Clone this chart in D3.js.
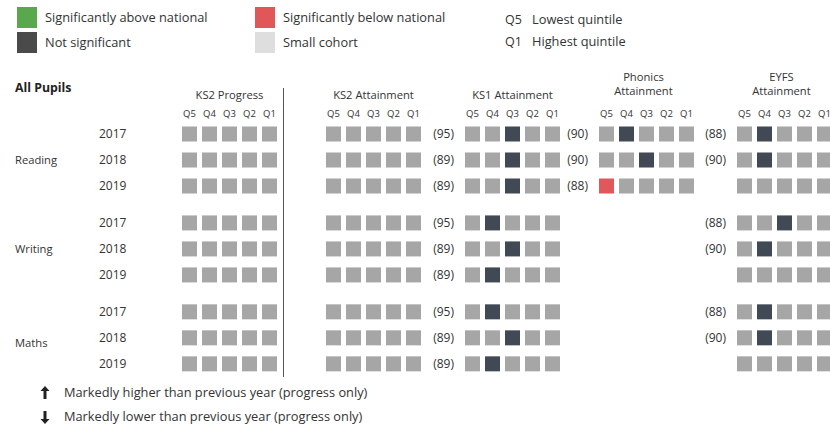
<!DOCTYPE html>
<html>
<head>
<meta charset="utf-8">
<script src="https://cdn.jsdelivr.net/npm/d3@7"></script>
<style>
  body { margin: 0; background: #fff; }
  svg text { font-family: "Open Sans", "Noto Sans", sans-serif; fill: #333; }
</style>
</head>
<body>
<svg width="830" height="425"></svg>
<script>
const subjects = ["Reading", "Writing", "Maths"];
const years = ["2017", "2018", "2019"];
const quintiles = ["Q5", "Q4", "Q3", "Q2", "Q1"];
const sectionNames = [["KS2 Progress"], ["KS2 Attainment"], ["KS1 Attainment"], ["Phonics", "Attainment"], ["EYFS", "Attainment"]];

// one string per row (Reading 2017..2019, Writing 2017..2019, Maths 2017..2019)
// g = grey, d = not significant, r = significantly below national
const ks2Progress = ["ggggg", "ggggg", "ggggg", "ggggg", "ggggg", "ggggg", "ggggg", "ggggg", "ggggg"];
const ks2Attainment = ["ggggg", "ggggg", "ggggg", "ggggg", "ggggg", "ggggg", "ggggg", "ggggg", "ggggg"];
const ks1Attainment = ["ggdgg", "ggdgg", "ggdgg", "gdggg", "ggdgg", "gdggg", "gdggg", "ggdgg", "gdggg"];
const phonicsAttainment = ["gdggg", "ggdgg", "rgggg", null, null, null, null, null, null];
const eyfsAttainment = ["gdggg", "gdggg", "ggggg", "ggdgg", "gdggg", "ggggg", "gdggg", "gdggg", "ggggg"];

// cohort figures shown in brackets before a section
const ks1Counts = [95, 89, 89, 95, 89, 89, 95, 89, 89];
const phonicsCounts = [90, 90, 88, null, null, null, null, null, null];
const eyfsCounts = [88, 90, null, 88, 90, null, 88, 90, null];

const sectionCells = [ks2Progress, ks2Attainment, ks1Attainment, phonicsAttainment, eyfsAttainment];
const sectionCounts = [null, null, ks1Counts, phonicsCounts, eyfsCounts];
const sectionX = [182, 326, 465, 599, 737];

const legendItems = [
  { label: "Significantly above national", color: "#5aa84d", x: 17, y: 7 },
  { label: "Not significant", color: "#4a4a4a", x: 17, y: 32 },
  { label: "Significantly below national", color: "#e05659", x: 255, y: 7 },
  { label: "Small cohort", color: "#dedede", x: 255, y: 32 }
];
const quintileKey = [["Q5", "Lowest quintile"], ["Q1", "Highest quintile"]];
const arrowKey = ["Markedly higher than previous year (progress only)", "Markedly lower than previous year (progress only)"];

const stateColor = { g: "#a6a6a6", d: "#414955", r: "#e0585b" };
const cell = 15;

const svg = d3.select("svg");

// legend
const leg = svg.append("g");
leg.selectAll("rect").data(legendItems).enter().append("rect")
  .attr("x", d => d.x).attr("y", d => d.y)
  .attr("width", 20).attr("height", 21)
  .attr("fill", d => d.color);
leg.selectAll("text").data(legendItems).enter().append("text")
  .attr("x", d => d.x + 28).attr("y", d => d.y + 15)
  .attr("font-size", 12.8)
  .text(d => d.label);

const qk = svg.append("g");
quintileKey.forEach((d, i) => {
  qk.append("text").attr("x", 505).attr("y", 24 + i * 22).attr("font-size", 12.5).text(d[0]);
  qk.append("text").attr("x", 532).attr("y", 24 + i * 22).attr("font-size", 12.8).text(d[1]);
});

svg.append("text").attr("x", 15).attr("y", 92)
  .attr("font-size", 12.3).attr("font-weight", "bold")
  .style("fill", "#222")
  .text("All Pupils");

// rows
const rowSlot = (g, r) => g * 3 + r + g * 0.42;
const yScale = d3.scaleLinear().domain([0, 1]).range([134, 160]);

const rows = [];
subjects.forEach((s, g) => years.forEach((yr, r) => rows.push({ subject: s, year: yr, g, r, i: g * 3 + r })));

svg.selectAll("text.year").data(rows).enter().append("text")
  .attr("class", "year")
  .attr("x", 99)
  .attr("y", d => yScale(rowSlot(d.g, d.r)) + 4)
  .attr("font-size", 12)
  .text(d => d.year);

svg.selectAll("text.subject").data(subjects).enter().append("text")
  .attr("class", "subject")
  .attr("x", 15)
  .attr("y", (d, g) => yScale(rowSlot(g, 1)) + 4 + (g === 2 ? 5 : 0))
  .attr("font-size", 11.2)
  .text(d => d);

// divider after KS2 Progress
svg.append("line")
  .attr("x1", 283.5).attr("x2", 283.5)
  .attr("y1", 88).attr("y2", 377)
  .attr("stroke", "#555").attr("stroke-width", 1);

sectionNames.forEach((name, k) => {
  const x = d3.scaleBand().domain(quintiles).range([sectionX[k], sectionX[k] + 95]).paddingInner(0.25);
  const cx = sectionX[k] + 47.5;
  const sec = svg.append("g");

  name.forEach((line, j) => {
    sec.append("text")
      .attr("x", cx - (name.length > 1 ? 3 : 0))
      .attr("y", name.length > 1 ? 81 + j * 14 : 99)
      .attr("text-anchor", "middle")
      .attr("font-size", 11.2)
      .text(line);
  });

  sec.selectAll("text.q").data(quintiles).enter().append("text")
    .attr("class", "q")
    .attr("x", d => x(d) + x.bandwidth() / 2)
    .attr("y", 117)
    .attr("text-anchor", "middle")
    .attr("font-size", 9.5)
    .text(d => d);

  const cells = [];
  rows.forEach(row => {
    const s = sectionCells[k][row.i];
    if (!s) return;
    quintiles.forEach((q, qi) => cells.push({ row, q, state: s[qi] }));
  });

  sec.selectAll("rect").data(cells).enter().append("rect")
    .attr("x", d => x(d.q))
    .attr("y", d => yScale(rowSlot(d.row.g, d.row.r)) - cell / 2)
    .attr("width", x.bandwidth())
    .attr("height", cell)
    .attr("fill", d => stateColor[d.state]);

  const counts = sectionCounts[k];
  if (counts) {
    sec.selectAll("text.count").data(rows.filter(r => counts[r.i] != null)).enter().append("text")
      .attr("class", "count")
      .attr("x", sectionX[k] - 11)
      .attr("y", d => yScale(rowSlot(d.g, d.r)) + 4)
      .attr("text-anchor", "end")
      .attr("font-size", 12)
      .text(d => "(" + counts[d.i] + ")");
  }
});

// arrow key
const ak = svg.append("g");
arrowKey.forEach((t, i) => {
  const y = 393 + i * 24;
  const up = i === 0;
  const tip = up ? y - 7 : y + 7;
  const base = up ? y - 2 : y + 2;
  const tail = up ? y + 6 : y - 6;
  ak.append("path")
    .attr("d", `M45,${tip} L49.5,${base} L46.5,${base} L46.5,${tail} L43.5,${tail} L43.5,${base} L40.5,${base} Z`)
    .attr("fill", "#222");
  ak.append("text").attr("x", 64).attr("y", y + 4).attr("font-size", 12.8).text(t);
});
</script>
</body>
</html>
